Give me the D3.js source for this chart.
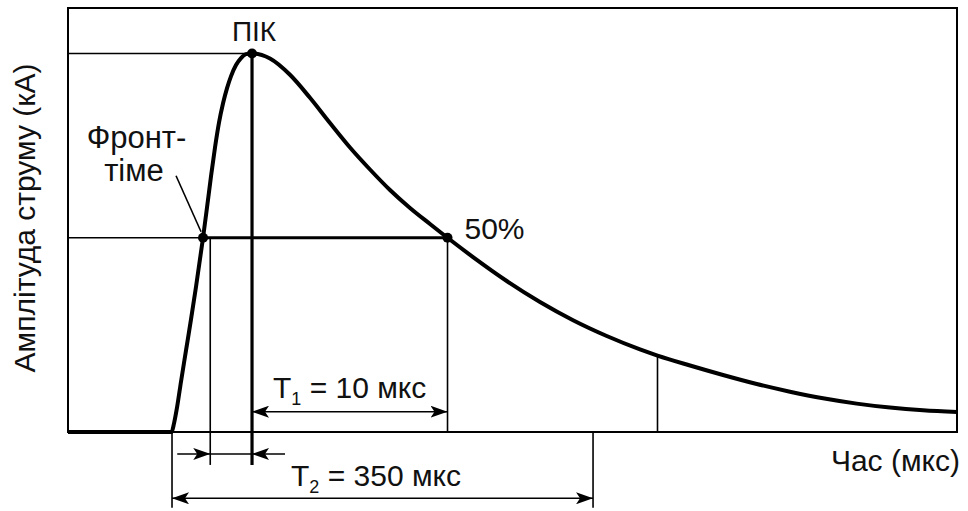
<!DOCTYPE html>
<html>
<head>
<meta charset="utf-8">
<script src="https://cdn.jsdelivr.net/npm/d3@7"></script>
<style>
  html, body { margin: 0; padding: 0; background: #fff; }
  svg { display: block; font-family: "Liberation Sans", Arial, Helvetica, sans-serif; }
</style>
</head>
<body>
<svg id="chart" width="968" height="511"></svg>
<script>
// Lightning current impulse: time (relative units) and current amplitude (% of peak)
const timeValues = [0, 11.65, 11.92, 12.26, 12.71, 13.27, 13.84, 14.40, 15.19, 15.64, 16.09, 16.54,
  16.99, 17.44, 17.89, 18.34, 18.90, 19.46, 20.02, 20.7,
  22.72, 24.97, 27.22, 29.47, 31.72, 33.97, 36.22, 38.47, 40.72, 42.69, 45.56, 49.35, 53.09,
  56.81, 60.60, 64.34, 66.31, 69.97, 73.68, 77.47, 81.21, 84.93, 88.72, 92.46, 96.18, 100];
const currentValues = [0, 0, 2.22, 6.42, 13.29, 21.48, 29.80, 38.38, 51.3, 59.35, 67.60, 75.20,
  81.76, 86.83, 90.84, 94.01, 96.92, 98.77, 99.82, 100,
  98.66, 94.36, 88.28, 81.62, 75.15, 69.34, 63.92, 59.17, 54.94, 51.3, 46.20, 39.89, 34.34,
  29.53, 25.36, 21.82, 20.2, 17.57, 15.06, 12.68, 10.65, 8.90, 7.50, 6.45, 5.73, 5.28];

// Characteristic points of the impulse
const keyNames = ["start", "front50", "frontEnd", "peak", "tail50", "t2End", "tailMark"];
const keyTimes = [11.7, 15.19, 16.0, 20.7, 42.69, 59.06, 66.31];
const peakValue = 100;
const halfValue = 51.3;
const tailMarkValue = 20.2;

// Text labels
const peakLabel = "ПІК";
const frontLabel = ["Фронт-", "тіме"];
const halfLabel = "50%";
const t1Label = ["T", "1", " = 10 мкс"];
const t2Label = ["T", "2", " = 350 мкс"];
const xTitle = "Час (мкс)";
const yTitle = "Амплітуда струму (кА)";

const key = Object.fromEntries(keyNames.map((n, i) => [n, keyTimes[i]]));
const curve = timeValues.map((t, i) => ({ t, v: currentValues[i] }));

const svg = d3.select("#chart");
const x = d3.scaleLinear().domain([0, 100]).range([68, 957]);
const y = d3.scaleLinear().domain([0, 112]).range([432, 8]);

// annotation rows below the baseline (in current units)
const rowT1 = 5.36, rowFront = -5.8, rowT2 = -17.5, dropShort = -8.7, dropLong = -20;

const defs = svg.append("defs");
defs.append("marker")
  .attr("id", "arrow")
  .attr("viewBox", "0 0 17 12")
  .attr("refX", 17).attr("refY", 6)
  .attr("markerWidth", 17).attr("markerHeight", 12)
  .attr("markerUnits", "userSpaceOnUse")
  .attr("orient", "auto-start-reverse")
  .append("path")
  .attr("d", "M0,0 L17,6 L0,12 L4,6 Z")
  .attr("fill", "#000");

const g = svg.append("g").attr("stroke", "#000").attr("fill", "none");

function seg(t1, v1, t2, v2, w) {
  return g.append("line")
    .attr("x1", x(t1)).attr("y1", y(v1))
    .attr("x2", x(t2)).attr("y2", y(v2))
    .attr("stroke-width", w);
}

// frame
g.append("rect")
  .attr("x", x(0)).attr("y", y(112))
  .attr("width", x(100) - x(0)).attr("height", y(0) - y(112))
  .attr("stroke-width", 2);

// reference lines
seg(0, peakValue, key.peak, peakValue, 1.6);
seg(0, halfValue, key.front50, halfValue, 1.6);
seg(key.front50, halfValue, key.tail50, halfValue, 3);
seg(key.peak, peakValue, key.peak, dropShort, 3.2);
seg(key.frontEnd, halfValue, key.frontEnd, dropShort, 1.6);
seg(key.tail50, halfValue, key.tail50, 0, 1.6);
seg(key.tailMark, tailMarkValue, key.tailMark, 0, 1.6);
seg(key.start, 0, key.start, dropLong, 1.6);
seg(key.t2End, 0, key.t2End, dropLong, 1.6);

// impulse curve
const line = d3.line().x(d => x(d.t)).y(d => y(d.v)).curve(d3.curveMonotoneX);
g.append("path").datum(curve).attr("d", line)
  .attr("stroke-width", 4).attr("stroke-linejoin", "round");

// marked points
const dots = [
  { t: key.front50, v: halfValue },
  { t: key.peak, v: peakValue },
  { t: key.tail50, v: halfValue }
];
svg.selectAll("circle.pt").data(dots).join("circle")
  .attr("class", "pt")
  .attr("cx", d => x(d.t)).attr("cy", d => y(d.v))
  .attr("r", 5).attr("fill", "#000");

// dimension arrows
seg(key.peak, rowT1, key.tail50, rowT1, 1.6)
  .attr("marker-start", "url(#arrow)").attr("marker-end", "url(#arrow)");
seg(key.start, rowT2, key.t2End, rowT2, 1.6)
  .attr("marker-start", "url(#arrow)").attr("marker-end", "url(#arrow)");
seg(key.frontEnd, rowFront, key.peak, rowFront, 1.6);
g.append("line")
  .attr("x1", x(key.frontEnd) - 33).attr("y1", y(rowFront))
  .attr("x2", x(key.frontEnd)).attr("y2", y(rowFront))
  .attr("stroke-width", 1.6).attr("marker-end", "url(#arrow)");
g.append("line")
  .attr("x1", x(key.peak) + 33).attr("y1", y(rowFront))
  .attr("x2", x(key.peak)).attr("y2", y(rowFront))
  .attr("stroke-width", 1.6).attr("marker-end", "url(#arrow)");

// leader from the front-time label to the 50 % point on the rise
g.append("line")
  .attr("x1", x(key.front50) - 27).attr("y1", y(halfValue) - 62)
  .attr("x2", x(key.front50) - 2).attr("y2", y(halfValue) - 6)
  .attr("stroke-width", 1.6);

// texts
const txt = svg.append("g").attr("fill", "#111");
const fs = 30;

txt.append("text").attr("x", x(key.peak) + 2).attr("y", 41)
  .attr("text-anchor", "middle").attr("font-size", 28).text(peakLabel);

txt.append("text").attr("x", 136.5).attr("y", 148)
  .attr("text-anchor", "middle").attr("font-size", 31).text(frontLabel[0]);
txt.append("text").attr("x", 134).attr("y", 181)
  .attr("text-anchor", "middle").attr("font-size", 31).text(frontLabel[1]);

txt.append("text").attr("x", x(key.tail50) + 17).attr("y", 239)
  .attr("font-size", fs).text(halfLabel);

function subLabel(parts, px, py) {
  const t = txt.append("text").attr("x", px).attr("y", py).attr("font-size", fs);
  t.append("tspan").text(parts[0]);
  t.append("tspan").attr("font-size", 18).attr("dy", 7).text(parts[1]);
  t.append("tspan").attr("dy", -7).text(parts[2]);
  return t;
}
subLabel(t1Label, 273, 398);
subLabel(t2Label, 291, 486);

txt.append("text").attr("x", 960).attr("y", 471)
  .attr("text-anchor", "end").attr("font-size", fs).text(xTitle);

txt.append("text")
  .attr("transform", "translate(35,218) rotate(-90)")
  .attr("text-anchor", "middle").attr("font-size", fs).text(yTitle);
</script>
</body>
</html>
